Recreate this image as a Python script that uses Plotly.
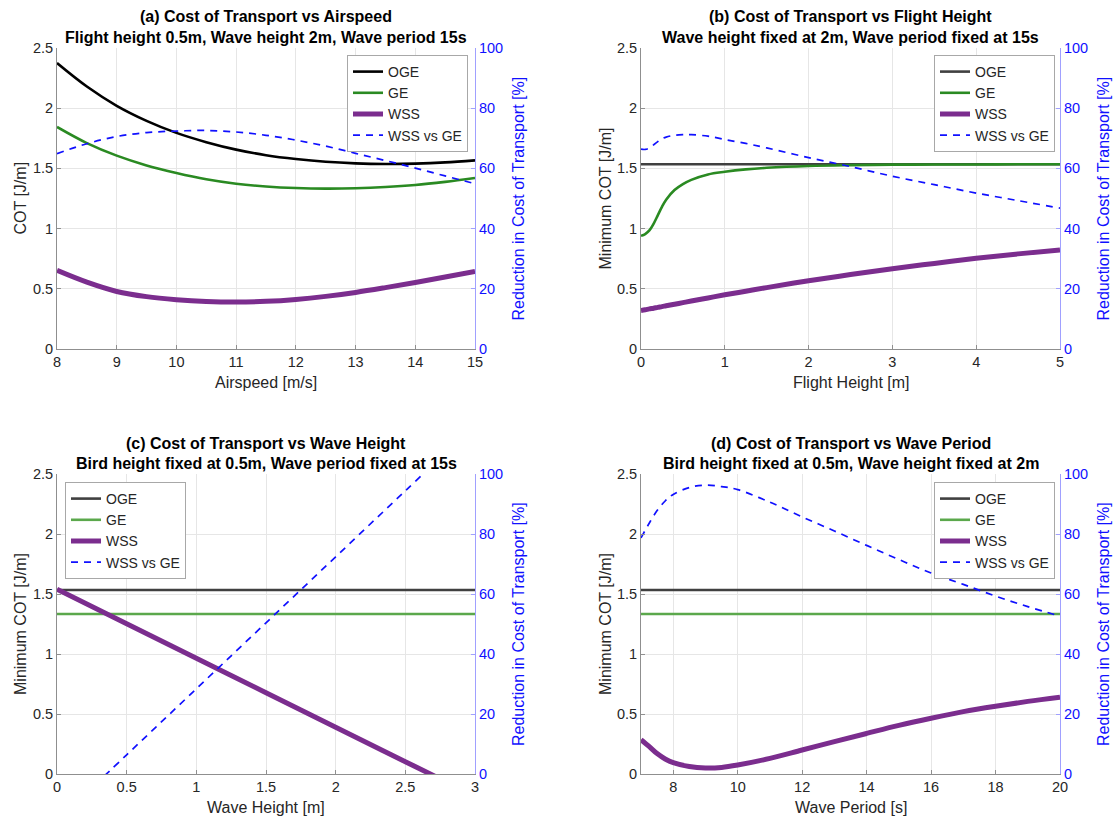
import plotly.graph_objects as go

# ---------------- data ----------------
# (a) vs airspeed
airspeed = [8, 8.5, 9, 9.5, 10, 10.5, 11, 11.5, 12, 12.5, 13, 13.5, 14, 14.5, 15]
a_oge = [2.375, 2.18, 2.02, 1.895, 1.795, 1.718, 1.656, 1.61, 1.578, 1.555, 1.542, 1.537, 1.540, 1.55, 1.567]
a_ge = [1.844, 1.71, 1.606, 1.525, 1.462, 1.41, 1.373, 1.35, 1.337, 1.332, 1.335, 1.345, 1.362, 1.388, 1.42]
a_wss = [0.653, 0.555, 0.478, 0.435, 0.41, 0.395, 0.39, 0.396, 0.412, 0.437, 0.47, 0.51, 0.553, 0.598, 0.645]
a_red = [64.9, 68.2, 70.6, 71.9, 72.4, 72.6, 72.1, 71.0, 69.4, 67.4, 65.0, 62.6, 60.1, 57.5, 54.9]

# (b) vs flight height
flight_h = [0, 0.05, 0.1, 0.15, 0.2, 0.25, 0.3, 0.4, 0.5, 0.6, 0.8, 1.0, 1.25, 1.5, 2, 2.5, 3, 3.5, 4, 4.5, 5]
b_oge = [1.535] * len(flight_h)
b_ge = [0.94, 0.955, 0.985, 1.04, 1.11, 1.18, 1.24, 1.32, 1.37, 1.405, 1.45, 1.472, 1.492, 1.505, 1.52,
        1.527, 1.531, 1.532, 1.533, 1.534, 1.534]
b_wss = [0.32, 0.326, 0.333, 0.339, 0.346, 0.352, 0.359, 0.372, 0.385, 0.398, 0.424, 0.45, 0.48, 0.51, 0.567,
         0.618, 0.667, 0.711, 0.753, 0.79, 0.823]
b_red = [66.4, 66.3, 66.8, 67.8, 68.9, 69.8, 70.4, 71.0, 71.2, 71.2, 70.7, 69.6, 68.3, 66.8, 63.6,
         60.6, 57.4, 54.6, 51.8, 49.3, 46.8]

# (c) vs wave height
wave_h = [0, 0.5, 1, 1.5, 2, 2.5, 3]
c_oge = [1.533] * len(wave_h)
c_ge = [1.333] * len(wave_h)
c_wss = [1.54, 1.253, 0.965, 0.678, 0.39, 0.103, -0.184]
c_red = [-15.6, 6.4, 28.4, 50.4, 72.4, 94.4, 116.4]

# (d) vs wave period
wave_p = [7, 7.25, 7.5, 7.75, 8, 8.5, 9, 9.5, 10, 11, 12, 13, 14, 15, 16, 17, 18, 19, 20]
d_oge = [1.533] * len(wave_p)
d_ge = [1.333] * len(wave_p)
d_wss = [0.286, 0.23, 0.17, 0.125, 0.095, 0.062, 0.05, 0.055, 0.075, 0.13, 0.2, 0.27, 0.338, 0.405,
         0.465, 0.52, 0.565, 0.605, 0.64]
d_red = [78.7, 83.5, 87.8, 91.0, 93.2, 95.5, 96.3, 95.8, 94.8, 90.6, 85.7, 81.0, 76.2, 71.5,
         67.0, 63.2, 59.3, 55.8, 52.6]

titles1 = ["(a) Cost of Transport vs Airspeed", "(b) Cost of Transport vs Flight Height",
           "(c) Cost of Transport vs Wave Height", "(d) Cost of Transport vs Wave Period"]
titles2 = ["Flight height 0.5m, Wave height 2m, Wave period 15s",
           "Wave height fixed at 2m, Wave period fixed at 15s",
           "Bird height fixed at 0.5m, Wave period fixed at 15s",
           "Bird height fixed at 0.5m, Wave height fixed at 2m"]
xlabels = ["Airspeed [m/s]", "Flight Height [m]", "Wave Height [m]", "Wave Period [s]"]
ylabels = ["COT [J/m]", "Minimum COT [J/m]", "Minimum COT [J/m]", "Minimum COT [J/m]"]
y2label = "Reduction in Cost of Transport [%]"
series_names = ["OGE", "GE", "WSS", "WSS vs GE"]

xranges = [[8, 15], [0, 5], [0, 3], [7, 20]]
xticks = [list(range(8, 16)), [0, 1, 2, 3, 4, 5], [0, 0.5, 1, 1.5, 2, 2.5, 3], [8, 10, 12, 14, 16, 18, 20]]
yticks = [0, 0.5, 1, 1.5, 2, 2.5]
y2ticks = [0, 20, 40, 60, 80, 100]

panels = [
    (airspeed, a_oge, a_ge, a_wss, a_red),
    (flight_h, b_oge, b_ge, b_wss, b_red),
    (wave_h, c_oge, c_ge, c_wss, c_red),
    (wave_p, d_oge, d_ge, d_wss, d_red),
]

# ---------------- style / layout ----------------
W, H = 1119, 821
FONT = "Liberation Sans, Arial, Helvetica, sans-serif"
oge_colors = ["#000000", "#404040", "#404040", "#404040"]
ge_colors = ["#2a8a22", "#2a8a22", "#5ba84c", "#5ba84c"]
wss_color = "#7b2d8e"
red_color = "#1010ff"
axis_gray = "#8f8f8f"
right_axis_col = "#a0a0ff"
grid_col = "#e6e6e6"
TICK = 14.5
LAB = 16

# plot areas in pixels: (left, right, top, bottom)
boxes = [(57, 475, 48, 349), (641, 1060, 48, 349), (57, 475, 474, 774), (641, 1060, 474, 774)]
legend_pos = [(347, 55), (934, 55), (65, 482), (934, 482)]
left_title_x = [20, 605, 20, 605]
right_title_x = [518, 1103, 518, 1103]


def px(x):
    return x / W


def py(y):
    return 1 - y / H


fig = go.Figure()
annotations = []
layout = dict(
    width=W, height=H, margin=dict(l=0, r=0, t=0, b=0, autoexpand=False),
    paper_bgcolor="white", plot_bgcolor="white",
    font=dict(family=FONT, size=14, color="#262626"),
)

for i, (xv, oge, ge, wss, red) in enumerate(panels):
    n = i + 1
    xa = f"x{n}" if n > 1 else "x"
    ya = f"y{2 * i + 1}" if i > 0 else "y"
    ya2 = f"y{2 * i + 2}"
    leg = "legend" if i == 0 else f"legend{n}"
    l, r, t, b = boxes[i]

    fig.add_trace(go.Scatter(x=xv, y=oge, name=series_names[0], mode="lines", line_shape="spline",
                             line=dict(color=oge_colors[i], width=2.6), xaxis=xa, yaxis=ya, legend=leg))
    fig.add_trace(go.Scatter(x=xv, y=ge, name=series_names[1], mode="lines", line_shape="spline",
                             line=dict(color=ge_colors[i], width=2.6), xaxis=xa, yaxis=ya, legend=leg))
    fig.add_trace(go.Scatter(x=xv, y=wss, name=series_names[2], mode="lines", line_shape="spline",
                             line=dict(color=wss_color, width=5), xaxis=xa, yaxis=ya, legend=leg))
    fig.add_trace(go.Scatter(x=xv, y=red, name=series_names[3], mode="lines", line_shape="spline",
                             line=dict(color=red_color, width=1.7, dash="7px,6px"),
                             xaxis=xa, yaxis=ya2, legend=leg))

    xkey = "xaxis" if n == 1 else f"xaxis{n}"
    ykey = "yaxis" if i == 0 else f"yaxis{2 * i + 1}"
    y2key = f"yaxis{2 * i + 2}"

    layout[xkey] = dict(
        domain=[px(l), px(r)], anchor=ya, range=xranges[i], tickvals=xticks[i],
        showgrid=True, gridcolor=grid_col, gridwidth=1, zeroline=False,
        showline=True, linecolor=axis_gray, linewidth=1,
        ticks="inside", ticklen=4, tickcolor=axis_gray, automargin=False,
        tickfont=dict(size=TICK, color="#262626"),
    )
    layout[ykey] = dict(
        domain=[py(b), py(t)], anchor=xa, range=[0, 2.5], tickvals=yticks,
        ticktext=["0", "0.5", "1", "1.5", "2", "2.5"],
        showgrid=True, gridcolor=grid_col, gridwidth=1, zeroline=False,
        showline=True, linecolor=axis_gray, linewidth=1,
        ticks="inside", ticklen=4, tickcolor=axis_gray, automargin=False,
        tickfont=dict(size=TICK, color="#262626"),
    )
    layout[y2key] = dict(
        overlaying=ya, side="right", anchor=xa, range=[0, 100], tickvals=y2ticks,
        showgrid=False, zeroline=False,
        showline=True, linecolor=right_axis_col, linewidth=1,
        ticks="inside", ticklen=4, tickcolor=right_axis_col, automargin=False,
        tickfont=dict(size=TICK, color=red_color),
    )
    lx, ly = legend_pos[i]
    layout[leg] = dict(
        x=px(lx), y=py(ly), xanchor="left", yanchor="top",
        bgcolor="white", bordercolor="#a8a8a8", borderwidth=1,
        font=dict(size=14, color="#262626", family=FONT),
        itemwidth=30, tracegroupgap=0,
    )

    cx = (l + r) / 2
    annotations.append(dict(text=f"<b>{titles1[i]}</b>", x=px(cx), y=py(t - 31), xref="paper", yref="paper",
                            xanchor="center", yanchor="middle", showarrow=False,
                            font=dict(size=LAB, color="#000000")))
    annotations.append(dict(text=f"<b>{titles2[i]}</b>", x=px(cx), y=py(t - 11), xref="paper", yref="paper",
                            xanchor="center", yanchor="middle", showarrow=False,
                            font=dict(size=LAB, color="#000000")))
    annotations.append(dict(text=xlabels[i], x=px(cx), y=py(b + 33), xref="paper", yref="paper",
                            xanchor="center", yanchor="middle", showarrow=False,
                            font=dict(size=LAB, color="#262626")))
    cy = (t + b) / 2
    annotations.append(dict(text=ylabels[i], x=px(left_title_x[i]), y=py(cy), xref="paper", yref="paper",
                            xanchor="center", yanchor="middle", showarrow=False, textangle=-90,
                            font=dict(size=LAB, color="#262626")))
    annotations.append(dict(text=y2label, x=px(right_title_x[i]), y=py(cy), xref="paper", yref="paper",
                            xanchor="center", yanchor="middle", showarrow=False, textangle=-90,
                            font=dict(size=LAB, color=red_color)))

layout["annotations"] = annotations
layout["showlegend"] = True
fig.update_layout(**layout)
fig.write_html("out.html")
